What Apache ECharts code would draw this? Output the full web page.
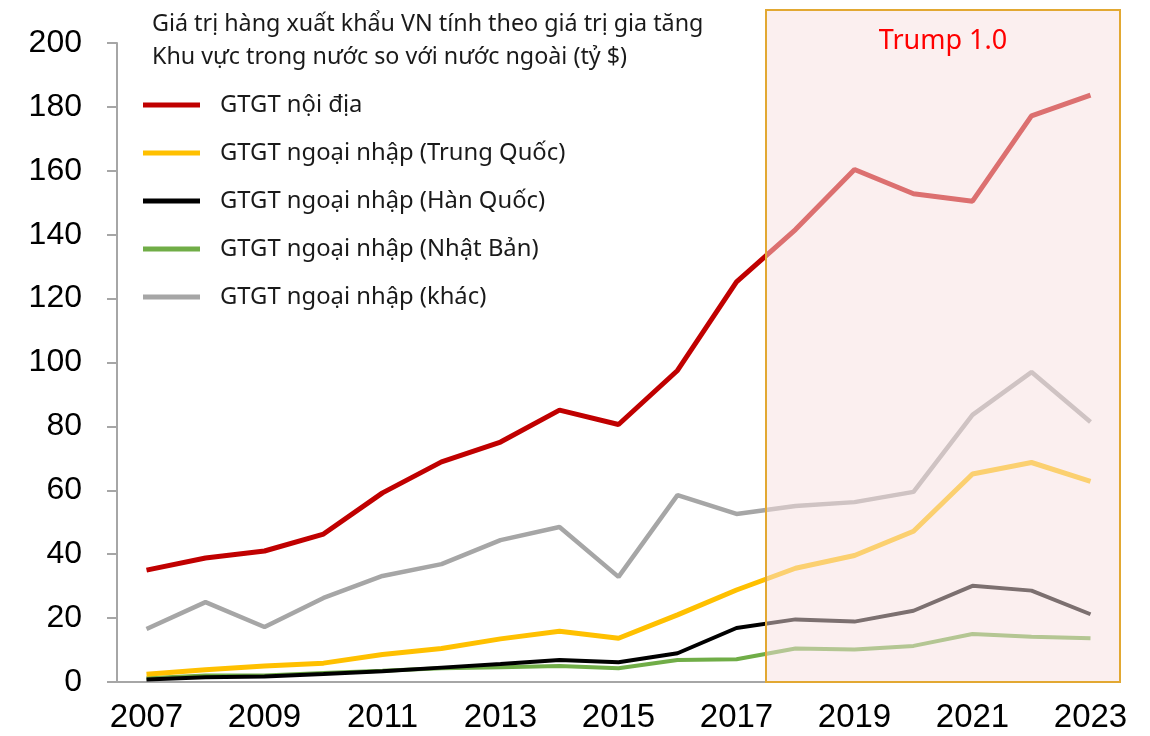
<!DOCTYPE html>
<html>
<head>
<meta charset="utf-8">
<script src="https://cdn.jsdelivr.net/npm/echarts@6/dist/echarts.min.js"></script>
<style>
  html, body { margin: 0; padding: 0; background: #fff; }
  #chart { width: 1150px; height: 736px; }
</style>
</head>
<body>
<div id="chart"></div>
<script>
// du lieu doc tu hinh (ty $)
const years = ['2007','2008','2009','2010','2011','2012','2013','2014','2015','2016','2017','2018','2019','2020','2021','2022','2023'];
const noiDia   = [35, 38.8, 41, 46.3, 59.2, 68.9, 75.1, 85.1, 80.6, 97.5, 125.2, 141.6, 160.4, 152.8, 150.5, 177.2, 183.7];
const trungQuoc = [2.4, 3.8, 5, 5.9, 8.6, 10.5, 13.5, 15.9, 13.7, 21, 28.8, 35.6, 39.6, 47.2, 65.1, 68.7, 62.8];
const hanQuoc  = [0.8, 1.5, 1.7, 2.5, 3.4, 4.5, 5.6, 6.9, 6.2, 9, 16.9, 19.6, 18.9, 22.3, 30.1, 28.6, 21.2];
const nhatBan  = [1.2, 2, 2, 2.8, 3.5, 4.3, 4.6, 5, 4.3, 6.9, 7.1, 10.5, 10.2, 11.3, 15, 14.2, 13.7];
const khac     = [16.6, 25, 17.2, 26.3, 33.2, 36.9, 44.4, 48.5, 32.9, 58.5, 52.6, 55.1, 56.3, 59.5, 83.6, 97, 81.4];
const seriesNames = ['GTGT nội địa', 'GTGT ngoại nhập (Trung Quốc)', 'GTGT ngoại nhập (Hàn Quốc)', 'GTGT ngoại nhập (Nhật Bản)', 'GTGT ngoại nhập (khác)'];
// khung Trump 1.0: tinh theo so cot (0..17), tu 2018 den het truc
const trumpFrom = 11, trumpTo = 17;

const font = 'Noto Sans';
const axisFont = 'Liberation Sans';

let myChart = echarts.init(document.getElementById('chart'));

function lineSeries(name, data, color, width) {
  return {
    name: name,
    type: 'line',
    data: data,
    symbol: 'none',
    lineStyle: { color: color, width: width },
    itemStyle: { color: color },
    z: 2
  };
}

let option = {
  animation: false,
  title: {
    text: 'Giá trị hàng xuất khẩu VN tính theo giá trị gia tăng\nKhu vực trong nước so với nước ngoài (tỷ $)',
    left: 147,
    top: 3,
    textStyle: { fontFamily: font, fontSize: 23.3, fontWeight: 'normal', color: '#1a1a1a', lineHeight: 33 }
  },
  legend: {
    orient: 'vertical',
    left: 138,
    top: 88,
    itemWidth: 57,
    itemHeight: 5,
    itemGap: 24,
    icon: 'rect',
    data: seriesNames,
    textStyle: { fontFamily: font, fontSize: 23.8, color: '#1a1a1a', padding: [0, 0, 0, 15], lineHeight: 24 }
  },
  grid: [
    { left: 117, right: 30, top: 43, bottom: 54 },
    // luoi phu cho khung (cao hon truc chinh)
    { left: 117, right: 30, top: 10, bottom: 54 }
  ],
  xAxis: [
    {
      type: 'category',
      data: years,
      boundaryGap: true,
      axisLine: { lineStyle: { color: '#A6A6A6', width: 2 } },
      axisTick: { interval: 0, length: 10, lineStyle: { color: '#A6A6A6', width: 2 } },
      axisLabel: { interval: 1, margin: 19, fontFamily: axisFont, fontSize: 33, color: '#000' }
    },
    { type: 'value', gridIndex: 1, min: 0, max: trumpTo, show: false }
  ],
  yAxis: [
    {
      type: 'value',
      min: 0,
      max: 200,
      interval: 20,
      splitLine: { show: false },
      axisLine: { show: true, lineStyle: { color: '#A6A6A6', width: 2 } },
      axisTick: { show: true, length: 10, lineStyle: { color: '#A6A6A6', width: 2 } },
      axisLabel: { margin: 35, fontFamily: axisFont, fontSize: 32, color: '#000' }
    },
    { type: 'value', gridIndex: 1, min: 0, max: 1, show: false }
  ],
  series: [
    lineSeries(seriesNames[4], khac, '#A6A6A6', 4.5),
    lineSeries(seriesNames[3], nhatBan, '#70AD47', 4),
    lineSeries(seriesNames[2], hanQuoc, '#000000', 4),
    lineSeries(seriesNames[1], trungQuoc, '#FFC000', 5),
    lineSeries(seriesNames[0], noiDia, '#C00000', 5),
    {
      type: 'line',
      xAxisIndex: 1,
      yAxisIndex: 1,
      data: [],
      z: 10,
      markArea: {
        silent: true,
        z: 10,
        itemStyle: { color: 'rgba(247,223,223,0.5)', borderColor: '#E2A832', borderWidth: 2 },
        label: { show: true, position: 'insideTop', distance: 19, color: '#FF0000', fontFamily: font, fontSize: 27 },
        data: [[{ name: 'Trump 1.0', coord: [trumpFrom, 0] }, { coord: [trumpTo, 1] }]]
      }
    }
  ]
};
myChart.setOption(option);
</script>
</body>
</html>
